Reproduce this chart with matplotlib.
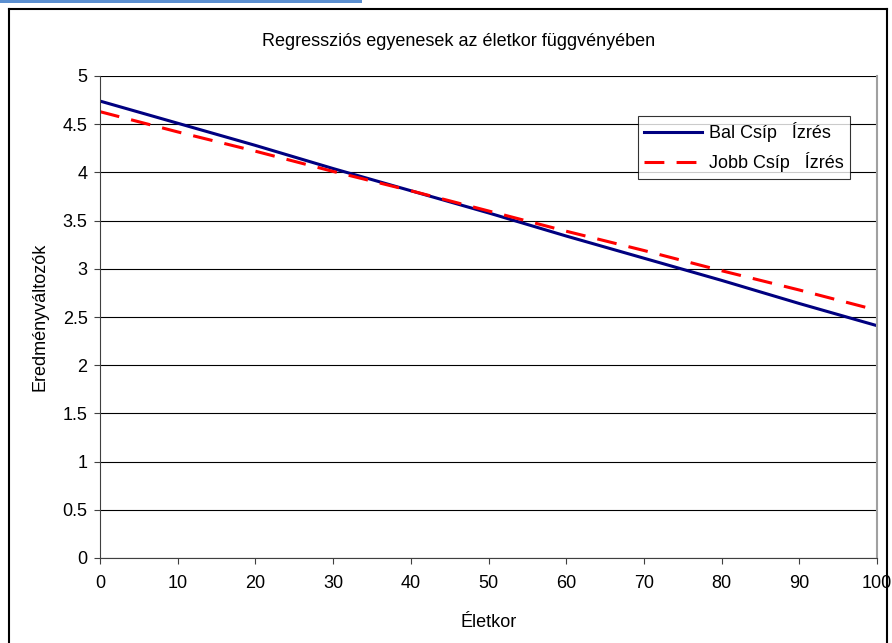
import matplotlib
matplotlib.use('Agg')
import matplotlib.pyplot as plt
from matplotlib.patches import Rectangle
from matplotlib.lines import Line2D

plt.rcParams['font.family'] = ['Liberation Sans', 'DejaVu Sans']

# ── adatok ──
eletkor = [0, 10, 20, 30, 40, 50, 60, 70, 80, 90, 100]
bal_csip = [4.74, 4.51, 4.28, 4.04, 3.81, 3.58, 3.34, 3.11, 2.88, 2.64, 2.41]
jobb_csip = [4.63, 4.42, 4.22, 4.01, 3.81, 3.60, 3.39, 3.19, 2.98, 2.78, 2.57]
y_ticks = [0, 0.5, 1, 1.5, 2, 2.5, 3, 3.5, 4, 4.5, 5]
x_ticks = [0, 10, 20, 30, 40, 50, 60, 70, 80, 90, 100]

FS = 13
fig = plt.figure(figsize=(8.92, 6.43), dpi=100)
W, H = 892, 643
ax = fig.add_axes([100 / W, 1 - 558 / H, 777 / W, 482 / H])

# chart area keret + kék sáv fent
fig.add_artist(Line2D([9 / W, 9 / W], [0, 1 - 9 / H], transform=fig.transFigure, color='black', lw=1.5))
fig.add_artist(Line2D([9 / W, 887 / W], [1 - 9 / H, 1 - 9 / H], transform=fig.transFigure, color='black', lw=1.5))
fig.add_artist(Line2D([887 / W, 887 / W], [0, 1 - 9 / H], transform=fig.transFigure, color='black', lw=1.5))
fig.add_artist(Rectangle((0, 1 - 3 / H), 362 / W, 3 / H, transform=fig.transFigure,
                         color='#5b8fd0', lw=0))

ax.plot(eletkor, bal_csip, color='#000080', lw=2.2, label='Bal Csíp   Ízrés')
ax.plot(eletkor, jobb_csip, color='#ff0000', lw=2.2, dashes=(6.5, 4), label='Jobb Csíp   Ízrés')

ax.set_xlim(0, 100)
ax.set_ylim(0, 5)
ax.set_xticks(x_ticks)
ax.set_yticks(y_ticks)
ax.set_yticklabels([f'{v:g}' for v in y_ticks])
ax.yaxis.grid(True, color='black', lw=0.8)
ax.set_axisbelow(True)
ax.tick_params(axis='both', labelsize=FS, length=4, color='#404040', pad=5)
ax.tick_params(axis='x', pad=8)

ax.spines['top'].set_visible(False)
ax.spines['left'].set_color('#404040')
ax.spines['bottom'].set_color('#404040')
ax.spines['right'].set_color('#a0a0a0')
ax.spines['right'].set_linewidth(1.5)

ax.set_xlabel('Életkor', fontsize=FS, labelpad=16)
ax.set_ylabel('Eredményváltozók', fontsize=FS, labelpad=10)
fig.text(459 / W, 1 - 41 / H, 'Regressziós egyenesek az életkor függvényében',
         fontsize=FS, ha='center', va='center')

leg = ax.legend(loc='upper left', bbox_to_anchor=(0.692, 0.917), fontsize=FS,
                frameon=True, fancybox=False, handlelength=3.2, handletextpad=0.4,
                borderpad=0.35, labelspacing=0.55, borderaxespad=0)
leg.get_frame().set_edgecolor('black')
leg.get_frame().set_linewidth(0.8)

fig.savefig('out.png', dpi=100)
